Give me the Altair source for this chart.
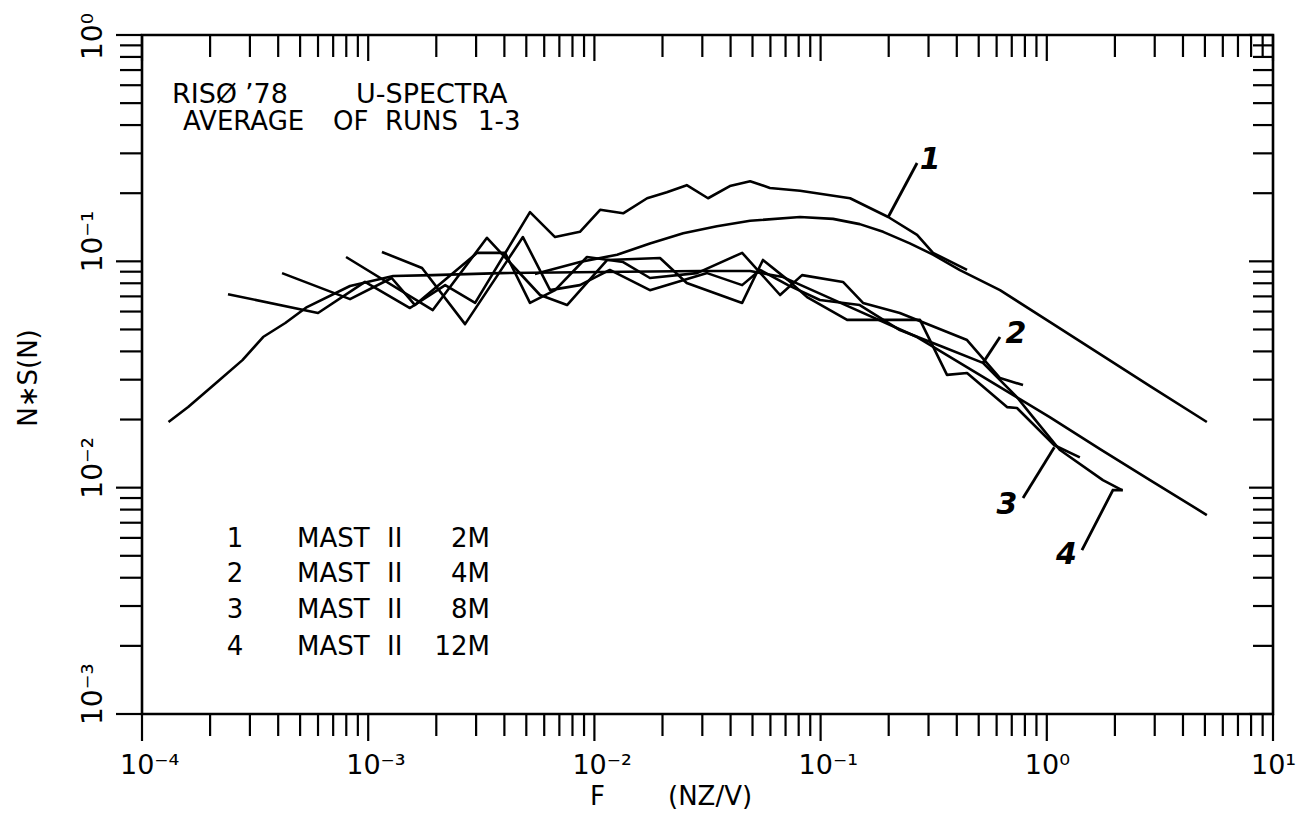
import altair as alt
import pandas as pd

# ---------------- data ----------------
# measured spectra, F = n z / U, S = n S(n)
F_2M = [2.40e-4, 6.00e-4, 9.68e-4, 1.53e-3, 2.19e-3, 2.97e-3, 5.19e-3, 6.70e-3, 8.63e-3, 1.06e-2,
        1.34e-2, 1.71e-2, 2.09e-2, 2.56e-2, 3.18e-2, 3.97e-2, 4.88e-2, 5.97e-2, 8.11e-2, 0.135,
        0.199, 0.267, 0.314, 0.444]
S_2M = [0.0716, 0.0591, 0.0811, 0.0622, 0.0785, 0.0655, 0.165, 0.128, 0.135, 0.169,
        0.163, 0.190, 0.202, 0.217, 0.190, 0.215, 0.226, 0.211, 0.205, 0.190,
        0.157, 0.131, 0.109, 0.0916]

F_4M = [4.16e-4, 8.31e-4, 1.27e-3, 1.61e-3, 3.03e-3, 4.03e-3, 5.19e-3, 6.70e-3, 9.27e-3, 1.34e-2,
        1.76e-2, 2.84e-2, 4.50e-2, 6.62e-2, 8.28e-2, 0.1256, 0.154, 0.224, 0.444, 0.621, 0.785]
S_4M = [0.0887, 0.0681, 0.0844, 0.0641, 0.109, 0.109, 0.0655, 0.0746, 0.1045, 0.0993,
        0.0844, 0.0887, 0.109, 0.0710, 0.0869, 0.0811, 0.0655, 0.0591, 0.0449, 0.0305, 0.0284]

F_8M = [7.98e-4, 1.93e-3, 3.35e-3, 5.75e-3, 7.57e-3, 1.14e-2, 1.95e-2, 2.56e-2, 4.50e-2, 5.56e-2,
        7.18e-2, 8.71e-2, 0.131, 0.275, 0.362, 0.444, 0.667, 0.738, 1.08, 1.40]
S_8M = [0.1045, 0.0609, 0.127, 0.0710, 0.0641, 0.1014, 0.1035, 0.0802, 0.0655, 0.1014,
        0.0826, 0.0695, 0.0551, 0.0551, 0.0315, 0.0321, 0.0227, 0.0225, 0.0154, 0.0136]

F_12M = [1.15e-3, 1.73e-3, 2.68e-3, 4.83e-3, 6.37e-3, 8.63e-3, 1.17e-2, 1.76e-2, 3.15e-2, 4.50e-2,
         5.40e-2, 7.18e-2, 9.93e-2, 0.149, 0.224, 0.348, 0.522, 0.738, 0.869, 1.14, 1.77, 2.15]
S_12M = [0.110, 0.0934, 0.0528, 0.128, 0.0746, 0.0785, 0.0916, 0.0746, 0.0887, 0.0785,
         0.0916, 0.0785, 0.0675, 0.0641, 0.0497, 0.0418, 0.0356, 0.0251, 0.0205, 0.0147, 0.0108, 0.00975]

# smooth model curves
F_MODEL_LOW = [1.31e-4, 1.60e-4, 2.15e-4, 2.78e-4, 3.43e-4, 4.30e-4, 5.36e-4, 8.31e-4, 1.29e-3, 1.93e-3,
               3.83e-3, 1.06e-2, 2.93e-2, 4.88e-2, 6.82e-2, 0.135, 0.267, 0.621, 1.03, 1.72, 2.86, 5.10]
S_MODEL_LOW = [0.0195, 0.0227, 0.0293, 0.0366, 0.0463, 0.0534, 0.0628, 0.0778, 0.0861, 0.0869,
               0.0887, 0.0897, 0.0906, 0.0906, 0.0852, 0.0628, 0.0463, 0.0278, 0.0205, 0.0148, 0.0108, 0.00757]

F_MODEL_UP = [5.46e-3, 8.63e-3, 1.26e-2, 1.76e-2, 2.47e-2, 3.48e-2, 4.88e-2, 8.11e-2, 0.1135, 0.149,
              0.189, 0.248, 0.314, 0.413, 0.621, 1.03, 1.72, 2.86, 5.10]
S_MODEL_UP = [0.0879, 0.0993, 0.107, 0.120, 0.133, 0.143, 0.151, 0.157, 0.154, 0.146,
              0.135, 0.120, 0.107, 0.0915, 0.0746, 0.0540, 0.0389, 0.0281, 0.0195]

# curve-number labels and their leader lines (data coordinates)
CURVE_LABELS = ["1", "2", "3", "4"]
CURVE_LABEL_F = [0.305, 0.731, 0.667, 1.22]
CURVE_LABEL_S = [0.280, 0.0477, 0.00838, 0.00504]
LEADER_F = [[0.199, 0.267], [0.522, 0.621], [0.785, 1.08], [1.43, 1.96, 2.17]]
LEADER_S = [[0.157, 0.272], [0.0356, 0.0463], [0.0090, 0.0151], [0.00530, 0.00975, 0.00975]]

# legend
LEG_NUM = ["1", "2", "3", "4"]
LEG_NAME = ["MAST", "MAST", "MAST", "MAST"]
LEG_MAST = ["II", "II", "II", "II"]
LEG_HEIGHT = ["2M", "4M", "8M", "12M"]

# axes
X_DECADES = [1e-4, 1e-3, 1e-2, 1e-1, 1.0, 10.0]
X_LABELS = ["10⁻⁴", "10⁻³", "10⁻²", "10⁻¹", "10⁰", "10¹"]
Y_DECADES = [1e-3, 1e-2, 1e-1]
Y_LABELS = ["10⁻³", "10⁻²", "10⁻¹"]
Y_TOP = [1.0]
Y_TOP_LABEL = ["10⁰"]
MULTS = [2, 3, 4, 5, 6, 7, 8, 9]
X_MINOR = [m * d for d in X_DECADES[:-1] for m in MULTS]
Y_MINOR = [m * d for d in Y_DECADES for m in MULTS]

# ---------------- chart ----------------
W, H = 1131, 679
FONT = "DejaVu Sans"
LW = 2.6
xs = alt.Scale(type="log", domain=[1e-4, 10], nice=False)
ys = alt.Scale(type="log", domain=[1e-3, 1], nice=False)
X = lambda: alt.X("F:Q", scale=xs, axis=None)
Y = lambda: alt.Y("S:Q", scale=ys, axis=None)

rows = []
for name, fv, sv in [("2M", F_2M, S_2M), ("4M", F_4M, S_4M), ("8M", F_8M, S_8M), ("12M", F_12M, S_12M),
                     ("model_low", F_MODEL_LOW, S_MODEL_LOW), ("model_up", F_MODEL_UP, S_MODEL_UP)]:
    for i, (f, s) in enumerate(zip(fv, sv)):
        rows.append({"series": name, "F": f, "S": s, "i": i})
curves = pd.DataFrame(rows)

lrows = []
for k, (fv, sv) in enumerate(zip(LEADER_F, LEADER_S)):
    for i, (f, s) in enumerate(zip(fv, sv)):
        lrows.append({"series": "L%d" % k, "F": f, "S": s, "i": i})
leaders = pd.DataFrame(lrows)

layers = []
layers.append(alt.Chart(curves).mark_line(color="black", strokeWidth=LW, strokeJoin="round").encode(
    x=X(), y=Y(), detail="series:N", order="i:Q"))
layers.append(alt.Chart(leaders).mark_line(color="black", strokeWidth=2.8).encode(
    x=X(), y=Y(), detail="series:N", order="i:Q"))
layers.append(alt.Chart(pd.DataFrame({"F": CURVE_LABEL_F, "S": CURVE_LABEL_S, "t": CURVE_LABELS}))
              .mark_text(font=FONT, fontSize=30, fontStyle="italic", fontWeight="bold", color="black",
                         align="center", baseline="middle")
              .encode(x=X(), y=Y(), text="t:N"))

# ticks
def xticks(vals, y0, y1):
    return alt.Chart(pd.DataFrame({"F": vals})).mark_rule(color="black", strokeWidth=2.2).encode(
        x=X(), y=alt.value(y0), y2=alt.value(y1))

def yticks(vals, x0, x1):
    return alt.Chart(pd.DataFrame({"S": vals})).mark_rule(color="black", strokeWidth=2.2).encode(
        y=Y(), x=alt.value(x0), x2=alt.value(x1))

layers += [xticks(X_MINOR, H, H + 22), xticks(X_DECADES, H, H + 27),
           xticks(X_MINOR, 0, 22), xticks(X_DECADES, 0, 26),
           yticks(Y_MINOR, -22, 0), yticks(Y_DECADES + Y_TOP, -26, 0),
           yticks(Y_MINOR, W - 20, W), yticks(Y_DECADES + Y_TOP, W - 24, W)]

# tick labels
layers.append(alt.Chart(pd.DataFrame({"F": X_DECADES, "t": X_LABELS}))
              .mark_text(font=FONT, fontSize=27, color="black", align="left", baseline="alphabetic", dx=-22)
              .encode(x=X(), y=alt.value(H + 60), text="t:N"))
layers.append(alt.Chart(pd.DataFrame({"S": Y_DECADES, "t": Y_LABELS}))
              .mark_text(font=FONT, fontSize=28, color="black", align="left", baseline="alphabetic",
                         angle=270, dx=-11)
              .encode(y=Y(), x=alt.value(-40), text="t:N"))
layers.append(alt.Chart(pd.DataFrame({"S": Y_TOP, "t": Y_TOP_LABEL}))
              .mark_text(font=FONT, fontSize=28, color="black", align="left", baseline="alphabetic",
                         angle=270, dx=-25)
              .encode(y=Y(), x=alt.value(-40), text="t:N"))

one = pd.DataFrame({"a": [0]})

def txt(s, x, y, size=25, align="left", angle=0):
    kw = dict(text=s, font=FONT, fontSize=size, color="black", align=align, baseline="alphabetic")
    if angle:
        kw["angle"] = angle
    return alt.Chart(one).mark_text(**kw).encode(x=alt.value(x), y=alt.value(y))

# axis titles
layers.append(txt("N∗S(N)", -105, 343, size=26, align="center", angle=270))
layers.append(txt("F", 448, 770, size=26))
layers.append(txt("(NZ/V)", 526, 770, size=26))

# header text
for word, x in [("RISØ", 30), ("’78", 103), ("U-SPECTRA", 214)]:
    layers.append(txt(word, x, 68, size=27))
for word, x in [("AVERAGE", 41), ("OF", 191), ("RUNS", 243), ("1-3", 336)]:
    layers.append(txt(word, x, 95, size=26))

# legend block
for k, yy in enumerate([512, 547, 583, 620]):
    layers.append(txt(LEG_NUM[k], 93, yy, size=26, align="center"))
    layers.append(txt(LEG_NAME[k], 155, yy, size=26))
    layers.append(txt(LEG_MAST[k], 245, yy, size=26))
    layers.append(txt(LEG_HEIGHT[k], 348, yy, size=26, align="right"))

chart = alt.layer(*layers).properties(
    width=W, height=H,
    autosize=alt.AutoSizeParams(type="none"),
    padding={"left": 134, "top": 27, "right": 24, "bottom": 102},
    background="white",
).configure_view(stroke="black", strokeWidth=2.6)

chart.save("out.html", embed_options={"renderer": "svg", "actions": False})
